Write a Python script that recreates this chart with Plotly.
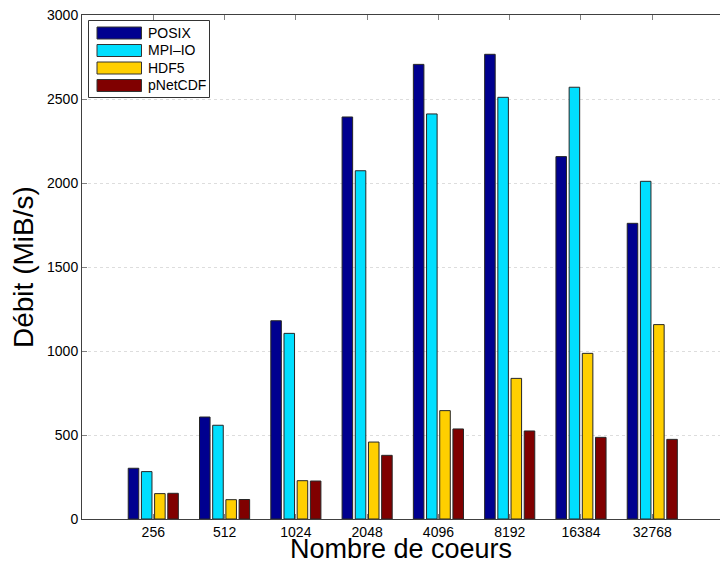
import plotly.graph_objects as go

# Number of cores (x categories)
cores = ["256", "512", "1024", "2048", "4096", "8192", "16384", "32768"]

# Throughput in MiB/s for each I/O library
posix = [302, 607, 1180, 2393, 2706, 2766, 2157, 1760]
mpiio = [282, 558, 1105, 2073, 2411, 2510, 2570, 2010]
hdf5 = [151, 115, 228, 458, 645, 837, 986, 1157]
pnetcdf = [153, 116, 226, 379, 536, 524, 486, 474]

series_names = ["POSIX", "MPI\u2013IO", "HDF5", "pNetCDF"]
series_values = [posix, mpiio, hdf5, pnetcdf]
series_colors = ["#00008F", "#00DFFF", "#FFCF00", "#800000"]

y_ticks = [0, 500, 1000, 1500, 2000, 2500, 3000]

FONT = "Liberation Sans, Arial, Helvetica, sans-serif"

W, H = 720, 567
ML, MR, MT, MB = 82, 0, 15, 48
PW, PH = W - ML - MR, H - MT - MB


def fx(px):
    """Pixel column -> paper x (relative to plot area)."""
    return (px - ML) / PW


def fy(py):
    """Pixel row -> paper y (relative to plot area)."""
    return (H - MB - py) / PH


fig = go.Figure()
for name, vals, col in zip(series_names, series_values, series_colors):
    fig.add_trace(go.Bar(
        x=cores, y=vals, name=name,
        marker=dict(color=col, line=dict(color="#262626", width=1)),
        showlegend=False,
    ))

# Hand-built legend box with wide colour swatches
shapes = [dict(type="rect", xref="paper", yref="paper",
               x0=fx(88.5), x1=fx(209.5), y0=fy(97.5), y1=fy(20.5),
               line=dict(color="#333333", width=1), fillcolor="white", layer="above")]
annotations = []
for i, (name, col) in enumerate(zip(series_names, series_colors)):
    cy = 33 + i * 17.5
    shapes.append(dict(type="rect", xref="paper", yref="paper",
                       x0=fx(97), x1=fx(141.5), y0=fy(cy + 6), y1=fy(cy - 6),
                       line=dict(color="#333333", width=1), fillcolor=col, layer="above"))
    annotations.append(dict(xref="paper", yref="paper", x=fx(145.5), y=fy(cy),
                            text=name, showarrow=False, xanchor="left", yanchor="middle",
                            font=dict(family=FONT, size=14, color="black")))

# Axis titles
annotations.append(dict(xref="paper", yref="paper", x=fx(401), y=fy(566),
                        text="Nombre de coeurs", showarrow=False,
                        xanchor="center", yanchor="bottom",
                        font=dict(family=FONT, size=27, color="black")))
annotations.append(dict(xref="paper", yref="paper", x=fx(23), y=fy(267),
                        text="Débit (MiB/s)", showarrow=False, textangle=-90,
                        xanchor="center", yanchor="middle",
                        font=dict(family=FONT, size=28, color="black")))

fig.update_layout(
    width=W, height=H,
    margin=dict(l=ML, r=MR, t=MT, b=MB),
    paper_bgcolor="white", plot_bgcolor="white",
    barmode="group", bargap=0.26, bargroupgap=0.2,
    font=dict(family=FONT, size=14, color="black"),
    shapes=shapes, annotations=annotations,
    xaxis=dict(type="category", range=[-1, 7.95],
               showline=True, linecolor="#404040", linewidth=1, mirror="ticks",
               ticks="inside", ticklen=5, tickcolor="#808080",
               showgrid=False, zeroline=False,
               tickfont=dict(family=FONT, size=14, color="black")),
    yaxis=dict(range=[0, 3000], tickvals=y_ticks,
               showline=True, linecolor="#404040", linewidth=1,
               ticks="inside", ticklen=5, tickcolor="#808080",
               showgrid=True, gridcolor="#dddddd", griddash="dot", gridwidth=1,
               zeroline=False,
               tickfont=dict(family=FONT, size=14, color="black")),
    yaxis2=dict(range=[0, 3000], tickvals=y_ticks, overlaying="y", side="right",
                showline=False, ticks="inside", ticklen=5, tickcolor="#808080",
                showticklabels=False, showgrid=False, zeroline=False),
)

fig.write_html("out.html")
